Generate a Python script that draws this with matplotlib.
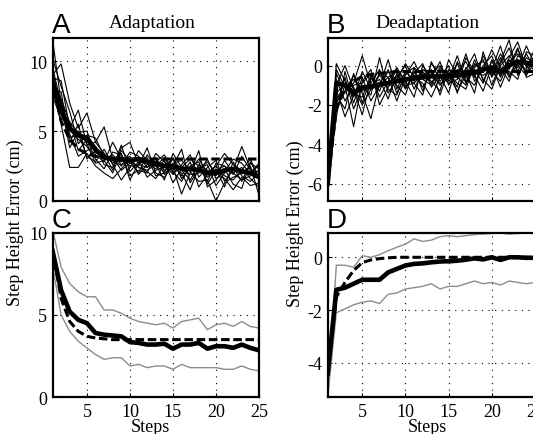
import matplotlib
matplotlib.use("Agg")
import matplotlib.pyplot as plt
import numpy as np

steps = list(range(1, 26))

# panel A: individual subjects (adaptation)
a1 = [11.6, 7.0, 5.0, 4.6, 4.3, 3.5, 3.0, 3.3, 2.6, 2.8, 2.0, 3.3, 2.5, 2.1, 3.0, 2.2, 1.5, 2.6, 2.2, 1.8, 2.9, 2.0, 2.4, 1.6, 1.0]
a2 = [9.0, 9.8, 7.0, 5.2, 6.3, 4.2, 3.4, 2.2, 3.8, 4.2, 2.6, 2.4, 3.1, 1.9, 2.7, 2.9, 2.2, 3.0, 2.0, 2.5, 3.4, 2.6, 2.2, 2.0, 2.7]
a3 = [8.2, 5.5, 2.4, 2.4, 3.4, 2.5, 2.0, 1.6, 2.3, 3.0, 2.4, 2.1, 1.6, 2.6, 1.9, 2.6, 3.3, 1.7, 2.4, 2.9, 1.4, 2.2, 3.9, 2.3, 1.8]
a4 = [8.8, 8.6, 5.2, 6.5, 4.0, 4.2, 5.3, 3.0, 2.5, 3.5, 3.2, 2.4, 2.8, 3.3, 2.1, 1.4, 2.5, 2.8, 1.2, 2.2, 2.5, 1.9, 3.2, 2.2, 2.1]
a5 = [7.8, 6.2, 4.8, 3.2, 3.6, 3.9, 2.6, 2.4, 4.0, 2.1, 2.8, 2.7, 2.3, 2.9, 1.3, 2.3, 1.9, 2.0, 3.0, 1.6, 2.1, 3.0, 2.7, 1.9, 2.6]
a6 = [8.5, 7.3, 5.6, 4.9, 5.0, 3.3, 2.8, 4.2, 3.0, 2.5, 2.5, 3.8, 2.0, 1.7, 2.5, 3.7, 1.3, 2.3, 2.6, 1.1, 2.0, 2.4, 1.4, 2.7, 2.3]
a7 = [9.3, 6.6, 4.5, 4.8, 3.2, 2.8, 3.7, 2.6, 1.5, 2.4, 3.6, 2.9, 3.0, 2.2, 2.6, 1.8, 2.8, 1.0, 1.9, 2.5, 1.8, 1.5, 2.2, 3.0, 1.5]
a8 = [7.5, 5.9, 5.7, 3.6, 4.4, 3.0, 2.3, 3.5, 3.3, 1.8, 2.2, 2.0, 3.4, 2.8, 2.3, 2.0, 0.8, 2.4, 1.7, 2.3, 1.0, 2.8, 1.8, 1.4, 2.0]
a9 = [8.0, 7.8, 4.2, 5.5, 3.0, 3.6, 3.1, 2.9, 2.8, 3.2, 1.9, 2.6, 2.5, 3.1, 2.0, 2.5, 2.1, 1.4, 1.5, 0.0, 1.3, 1.7, 2.0, 2.5, 0.4]
a10 = [10.2, 8.2, 6.4, 4.1, 4.7, 4.5, 3.2, 3.1, 2.2, 2.7, 3.0, 1.7, 2.2, 2.4, 3.1, 1.6, 2.4, 2.2, 2.8, 2.0, 1.6, 0.8, 1.7, 1.1, 1.3]
a11 = [8.6, 7.1, 5.1, 4.4, 3.9, 3.1, 3.4, 2.7, 3.4, 1.5, 2.7, 3.1, 1.8, 2.0, 2.4, 0.5, 2.0, 3.6, 1.0, 1.5, 2.3, 1.2, 0.9, 2.8, 1.7]
a12 = [9.6, 6.9, 3.8, 5.0, 4.1, 2.7, 2.9, 2.0, 3.6, 2.9, 2.4, 2.2, 2.6, 1.5, 3.4, 2.4, 3.0, 2.5, 1.4, 2.7, 2.5, 2.0, 1.5, 1.8, 2.2]
adapt_subjects = [a1, a2, a3, a4, a5, a6, a7, a8, a9, a10, a11, a12]
adapt_mean = [8.5, 6.5, 5.2, 4.7, 4.5, 3.7, 3.1, 3.0, 3.0, 2.9, 3.0, 2.8, 2.7, 2.5, 2.5, 2.3, 2.3, 2.2, 2.0, 2.0, 2.2, 2.3, 2.1, 2.0, 1.7]
adapt_fit = [8.5, 5.7, 4.4, 3.7, 3.4, 3.2, 3.1, 3.05, 3.0, 3.0, 3.0, 3.0, 3.0, 3.0, 3.0, 3.0, 3.0, 3.0, 3.0, 3.0, 3.0, 3.0, 3.0, 3.0, 3.0]

# panel B: individual subjects (deadaptation)
b1 = [-6.0, 0.1, -0.8, -1.6, -0.3, -1.2, -0.5, -1.0, -0.2, -0.9, -0.3, -1.1, -0.4, 0.0, -0.8, -0.3, 0.2, -0.6, 0.5, -0.4, 0.6, -0.2, 0.8, 0.1, 0.4]
b2 = [-5.8, -1.5, -2.2, -0.4, -1.9, -0.6, -1.3, -0.2, -1.4, -0.5, 0.2, -0.7, -1.0, -0.2, -0.6, 0.1, -0.9, -0.1, 0.3, -1.0, 0.1, 0.9, -0.3, 0.6, -0.2]
b3 = [-6.0, -2.3, -1.0, -3.1, -0.8, -0.2, -2.0, -1.1, -0.6, 0.0, -1.2, -0.3, -0.8, -1.3, 0.3, -0.5, -0.2, 0.6, -0.8, 0.2, -0.5, 0.4, 1.2, -0.1, 0.3]
b4 = [-5.9, -0.4, -1.4, -0.9, 0.5, -1.0, -0.7, -1.7, -0.4, -1.2, -0.4, 0.1, -1.1, -0.5, -1.4, 0.2, -0.6, -1.0, 0.0, 0.5, -0.6, 0.3, -0.1, 1.0, 0.0]
b5 = [-6.0, -1.0, 0.0, -1.2, -2.5, -0.7, -0.3, -0.6, -1.8, -0.6, -0.9, -1.5, 0.2, -0.8, -0.3, -1.1, 0.4, -0.3, -0.5, -0.2, 1.0, -0.5, 0.3, -0.4, 0.6]
b6 = [-5.7, -1.8, -1.3, -0.5, -1.4, -2.7, -0.9, -0.3, -1.0, -1.5, -0.1, -0.5, -0.3, -1.0, -0.4, -0.9, -1.2, 0.1, -0.2, 0.8, -0.1, -0.8, 0.5, 0.2, -0.3]
b7 = [-6.0, -0.7, -1.8, -1.0, -0.9, -0.4, -1.6, -0.8, -0.1, -0.8, -1.6, 0.0, -0.6, 0.2, -1.0, -0.2, -0.4, -1.4, 0.7, -0.6, 0.2, 1.3, -0.5, 0.4, 0.1]
b8 = [-5.9, -2.0, -0.6, -2.2, -1.1, -1.5, 0.4, -1.4, -0.7, 0.1, -0.6, -0.9, -1.6, -0.6, 0.0, -1.4, -0.1, -0.5, -1.3, 0.0, -1.1, 0.0, 0.9, -0.6, -0.4]
b9 = [-6.0, -1.2, -2.6, -1.5, -1.6, -0.5, -1.1, 0.3, -1.2, -0.3, -0.8, -0.2, -0.5, -0.9, -0.7, 0.5, -0.8, -0.2, -0.9, 0.3, -0.3, -0.3, -0.7, 0.7, 0.5]
b10 = [-5.8, -0.2, -1.1, -0.7, -1.3, -0.9, -0.2, -1.2, -1.5, -0.4, -0.1, -1.3, 0.1, -0.4, -0.9, -0.7, 0.6, -0.8, -0.1, -0.5, 0.4, -0.6, 0.1, -0.2, 0.9]
b11 = [-6.0, -2.6, -0.3, -1.9, -0.6, -1.8, -1.0, -0.6, -0.3, -1.1, -0.5, -0.6, -0.2, -1.5, -0.2, -0.6, -1.0, 0.3, -0.7, -1.2, 0.0, 0.5, 0.0, -0.5, 0.2]
b12 = [-5.9, -1.4, -0.9, -1.1, -2.0, -1.2, -0.4, -0.9, -0.5, -1.0, -0.9, -0.4, -0.9, -0.1, -0.5, -1.3, -0.5, 0.0, 0.2, -0.3, -0.8, 0.2, 0.6, 0.0, -0.5]
deadapt_subjects = [b1, b2, b3, b4, b5, b6, b7, b8, b9, b10, b11, b12]
deadapt_mean = [-6.0, -0.9, -1.0, -1.4, -1.1, -1.1, -0.95, -0.9, -0.8, -0.7, -0.65, -0.6, -0.55, -0.55, -0.55, -0.5, -0.45, -0.35, -0.2, -0.1, -0.3, 0.0, 0.2, 0.15, 0.0]
deadapt_fit = [-6.0, -2.2, -1.2, -0.8, -0.55, -0.45, -0.4, -0.35, -0.3, -0.3, -0.3, -0.3, -0.3, -0.3, -0.3, -0.3, -0.3, -0.3, -0.3, -0.3, -0.3, -0.3, -0.3, -0.3, -0.3]

# panel C: model simulation (adaptation)
sim_adapt_mean = [8.9, 6.5, 5.2, 4.7, 4.5, 3.9, 3.8, 3.75, 3.7, 3.35, 3.3, 3.2, 3.2, 3.25, 2.95, 3.2, 3.2, 3.3, 2.95, 3.1, 3.1, 3.0, 3.2, 3.0, 2.85]
sim_adapt_upper = [10.2, 7.9, 6.9, 6.4, 6.1, 6.1, 5.3, 5.3, 5.1, 4.8, 4.6, 4.5, 4.4, 4.5, 4.2, 4.6, 4.7, 4.8, 4.1, 4.4, 4.5, 4.3, 4.6, 4.3, 4.2]
sim_adapt_lower = [8.0, 5.0, 4.0, 3.4, 3.0, 2.6, 2.3, 2.4, 2.4, 1.9, 2.0, 1.8, 1.9, 1.9, 1.7, 2.0, 1.8, 1.8, 1.8, 1.8, 1.7, 1.7, 1.9, 1.7, 1.6]
sim_adapt_fit = [9.0, 6.0, 4.6, 4.0, 3.7, 3.6, 3.55, 3.5, 3.5, 3.5, 3.5, 3.5, 3.5, 3.5, 3.5, 3.5, 3.5, 3.5, 3.5, 3.5, 3.5, 3.5, 3.5, 3.5, 3.5]

# panel D: model simulation (deadaptation)
sim_deadapt_mean = [-4.4, -1.23, -1.15, -1.0, -0.85, -0.85, -0.85, -0.57, -0.44, -0.31, -0.25, -0.23, -0.19, -0.16, -0.15, -0.13, -0.09, -0.04, -0.08, 0.0, -0.1, 0.0, 0.0, -0.02, -0.02]
sim_deadapt_upper = [-5.3, -0.3, -0.3, -0.38, 0.06, 0.0, 0.1, 0.25, 0.38, 0.5, 0.7, 0.6, 0.65, 0.78, 0.82, 0.78, 0.82, 0.86, 0.88, 0.9, 0.92, 0.88, 0.9, 0.92, 0.9]
sim_deadapt_lower = [-5.3, -2.1, -1.95, -1.8, -1.7, -1.65, -1.75, -1.4, -1.35, -1.2, -1.15, -1.1, -1.0, -1.2, -1.1, -1.1, -1.0, -0.9, -1.0, -0.95, -1.05, -0.9, -0.95, -1.0, -0.95]
sim_deadapt_fit = [-4.4, -1.5, -0.95, -0.5, -0.2, -0.1, -0.05, -0.02, 0.0, 0.0, 0.0, 0.0, 0.0, 0.0, 0.0, 0.0, 0.0, 0.0, 0.0, 0.0, 0.0, 0.0, 0.0, 0.0, 0.0]

W, H = 533, 435
serif = "Liberation Serif"
sans = "Liberation Sans"
plt.rcParams["font.family"] = serif
plt.rcParams["axes.unicode_minus"] = False


def px_axes(fig, left, top, right, bottom):
    return fig.add_axes([left / W, 1 - bottom / H, (right - left) / W, (bottom - top) / H])


def style(ax, ylim, yticks, show_x):
    ax.set_xlim(1, 25)
    ax.set_ylim(*ylim)
    ax.set_xticks([5, 10, 15, 20, 25])
    ax.set_yticks(yticks)
    if not show_x:
        ax.set_xticklabels([])
    ax.tick_params(direction="in", length=3, width=0.8, labelsize=13, pad=4)
    ax.grid(True, color="black", linestyle=(0, (1, 5)), linewidth=0.8)
    for s in ax.spines.values():
        s.set_linewidth(1.6)


fig = plt.figure(figsize=(W / 100, H / 100), dpi=100)

axA = px_axes(fig, 52.5, 39, 259, 202)
axB = px_axes(fig, 327.7, 39, 535, 202)
axC = px_axes(fig, 52.5, 233.5, 259, 398.3)
axD = px_axes(fig, 327.7, 234, 535, 398.3)

for tr in adapt_subjects:
    axA.plot(steps, tr, color="black", linewidth=0.8, zorder=2)
axA.plot(steps, adapt_fit, color="black", linewidth=2.2, dashes=(2.8, 1.2), zorder=3)
axA.plot(steps, adapt_mean, color="black", linewidth=3.3, zorder=4)
style(axA, (0, 11.65), [0, 5, 10], False)

for tr in deadapt_subjects:
    axB.plot(steps, tr, color="black", linewidth=0.8, zorder=2)
axB.plot(steps, deadapt_fit, color="black", linewidth=2.2, dashes=(2.8, 1.2), zorder=3)
axB.plot(steps, deadapt_mean, color="black", linewidth=3.3, zorder=4)
style(axB, (-6.88, 1.4), [-6, -4, -2, 0], False)

axC.plot(steps, sim_adapt_upper, color="#8c8c8c", linewidth=1.0)
axC.plot(steps, sim_adapt_lower, color="#8c8c8c", linewidth=1.0)
axC.plot(steps, sim_adapt_fit, color="black", linewidth=2.2, dashes=(2.8, 1.2))
axC.plot(steps, sim_adapt_mean, color="black", linewidth=3.3)
style(axC, (0, 10), [0, 5, 10], True)

axD.plot(steps, sim_deadapt_upper, color="#8c8c8c", linewidth=1.0)
axD.plot(steps, sim_deadapt_lower, color="#8c8c8c", linewidth=1.0)
axD.plot(steps, sim_deadapt_fit, color="black", linewidth=2.2, dashes=(2.8, 1.2))
axD.plot(steps, sim_deadapt_mean, color="black", linewidth=3.3)
style(axD, (-5.3, 0.92), [-4, -2, 0], True)

# titles, panel letters, shared labels
fig.text(152 / W, 1 - 28 / H, "Adaptation", ha="center", va="baseline", fontsize=14)
fig.text(427 / W, 1 - 28 / H, "Deadaptation", ha="center", va="baseline", fontsize=14)
for letter, x, y in [("A", 52, 33), ("B", 327, 33), ("C", 52, 228), ("D", 327, 228)]:
    fig.text(x / W, 1 - y / H, letter, ha="left", va="baseline", fontsize=20, family=sans)

fig.text(15 / W, 1 - 223 / H, "Step Height Error (cm)", rotation=90, ha="center", va="center", fontsize=13)
fig.text(295 / W, 1 - 224 / H, "Step Height Error (cm)", rotation=90, ha="center", va="center", fontsize=13)
fig.text(150 / W, 1 - 432 / H, "Steps", ha="center", va="baseline", fontsize=13)
fig.text(427 / W, 1 - 432 / H, "Steps", ha="center", va="baseline", fontsize=13)

fig.savefig("out.png", dpi=100)
